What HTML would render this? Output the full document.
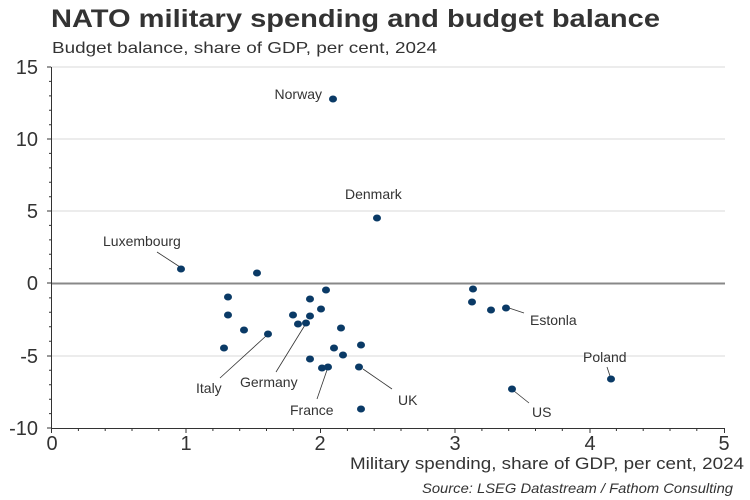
<!DOCTYPE html>
<html><head><meta charset="utf-8"><style>
body{margin:0;background:#fff;}
svg{display:block;font-family:"Liberation Sans",Arial,sans-serif;}
</style></head><body>
<svg width="750" height="500" viewBox="0 0 750 500" xmlns="http://www.w3.org/2000/svg">
<text x="51" y="27" font-size="25" font-weight="bold" fill="#333" textLength="609" lengthAdjust="spacingAndGlyphs">NATO military spending and budget balance</text>
<text x="52" y="53" font-size="16" fill="#333" textLength="385" lengthAdjust="spacingAndGlyphs">Budget balance, share of GDP, per cent, 2024</text>
<g stroke="#d9d9d9" stroke-width="1">
<line x1="51" y1="67" x2="725" y2="67"/><line x1="51" y1="139" x2="725" y2="139"/>
<line x1="51" y1="211" x2="725" y2="211"/><line x1="51" y1="356" x2="725" y2="356"/>
</g>
<line x1="51" y1="283.5" x2="725" y2="283.5" stroke="#888" stroke-width="2"/>
<g stroke="#333" stroke-width="1">
<line x1="51.5" y1="67" x2="51.5" y2="428"/>
<line x1="51" y1="428.5" x2="725" y2="428.5"/>
<path d="M47 67h4M47 139h4M47 211h4M47 283h4M47 356h4M47 428h4"/>
<path d="M49 81.4h2M49 95.9h2M49 110.3h2M49 124.7h2M49 153.4h2M49 167.9h2M49 182.3h2M49 196.7h2M49 225.4h2M49 239.9h2M49 254.3h2M49 268.7h2M49 297.9h2M49 312.3h2M49 326.7h2M49 341.2h2M49 370.3h2M49 384.7h2M49 399.2h2M49 413.6h2"/>
<path d="M51.5 428v5M186 428v5M320.5 428v5M455 428v5M590 428v5M724.5 428v5"/>
<path d="M78.4 428v3M105.2 428v3M132 428v3M158.8 428v3M212.9 428v3M239.7 428v3M266.5 428v3M293.3 428v3M347.4 428v3M374.2 428v3M401 428v3M427.8 428v3M481.9 428v3M508.7 428v3M535.5 428v3M562.3 428v3M616.4 428v3M643.2 428v3M670 428v3M696.8 428v3"/>
</g>
<g font-size="20" fill="#333" text-anchor="end">
<text x="38" y="74">15</text><text x="38" y="146">10</text><text x="38" y="218">5</text>
<text x="38" y="290">0</text><text x="38" y="363">-5</text><text x="38" y="435">-10</text>
</g>
<g font-size="20" fill="#333" text-anchor="middle">
<text x="52" y="450">0</text><text x="186" y="450">1</text><text x="320" y="450">2</text>
<text x="455" y="450">3</text><text x="590" y="450">4</text><text x="724" y="450">5</text>
</g>
<text x="744" y="469" font-size="17" fill="#333" text-anchor="end" textLength="394" lengthAdjust="spacingAndGlyphs">Military spending, share of GDP, per cent, 2024</text>
<text x="733" y="493" font-size="14" font-style="italic" fill="#333" text-anchor="end" textLength="311" lengthAdjust="spacingAndGlyphs">Source: LSEG Datastream / Fathom Consulting</text>
<g stroke="#333" stroke-width="0.8">
<line x1="157" y1="252" x2="180" y2="267"/>
<line x1="220" y1="378" x2="266" y2="336"/>
<line x1="276" y1="372" x2="305" y2="325"/>
<line x1="317" y1="399" x2="327" y2="370"/>
<line x1="392" y1="389" x2="363" y2="369"/>
<line x1="524" y1="313" x2="509" y2="308"/>
<line x1="607" y1="367" x2="610" y2="376"/>
<line x1="529" y1="403" x2="514" y2="391"/>
</g>
<g fill="#0a3a66">
<ellipse cx="333" cy="99" rx="4" ry="3.5"/><ellipse cx="377" cy="218" rx="4" ry="3.5"/>
<ellipse cx="181" cy="269" rx="4" ry="3.5"/><ellipse cx="257" cy="273" rx="4" ry="3.5"/>
<ellipse cx="228" cy="297" rx="4" ry="3.5"/><ellipse cx="228" cy="315" rx="4" ry="3.5"/>
<ellipse cx="244" cy="330" rx="4" ry="3.5"/><ellipse cx="268" cy="334" rx="4" ry="3.5"/>
<ellipse cx="224" cy="348" rx="4" ry="3.5"/><ellipse cx="293" cy="315" rx="4" ry="3.5"/>
<ellipse cx="298" cy="324" rx="4" ry="3.5"/><ellipse cx="306" cy="323" rx="4" ry="3.5"/>
<ellipse cx="310" cy="299" rx="4" ry="3.5"/><ellipse cx="310" cy="316" rx="4" ry="3.5"/>
<ellipse cx="321" cy="309" rx="4" ry="3.5"/><ellipse cx="326" cy="290" rx="4" ry="3.5"/>
<ellipse cx="341" cy="328" rx="4" ry="3.5"/><ellipse cx="334" cy="348" rx="4" ry="3.5"/>
<ellipse cx="343" cy="355" rx="4" ry="3.5"/><ellipse cx="361" cy="345" rx="4" ry="3.5"/>
<ellipse cx="310" cy="359" rx="4" ry="3.5"/><ellipse cx="322" cy="368" rx="4" ry="3.5"/>
<ellipse cx="328" cy="367" rx="4" ry="3.5"/><ellipse cx="359" cy="367" rx="4" ry="3.5"/>
<ellipse cx="361" cy="409" rx="4" ry="3.5"/><ellipse cx="473" cy="289" rx="4" ry="3.5"/>
<ellipse cx="472" cy="302" rx="4" ry="3.5"/><ellipse cx="491" cy="310" rx="4" ry="3.5"/>
<ellipse cx="506" cy="308" rx="4" ry="3.5"/><ellipse cx="611" cy="379" rx="4" ry="3.5"/>
<ellipse cx="512" cy="389" rx="4" ry="3.5"/>
</g>
<g font-size="14" fill="#333">
<text x="322" y="99" text-anchor="end">Norway</text>
<text x="345" y="199">Denmark</text>
<text x="103" y="246">Luxembourg</text>
<text x="196" y="393">Italy</text>
<text x="240" y="387">Germany</text>
<text x="290" y="415">France</text>
<text x="398" y="405">UK</text>
<text x="530" y="325">Estonla</text>
<text x="583" y="362">Poland</text>
<text x="532" y="417">US</text>
</g>
</svg>
</body></html>
